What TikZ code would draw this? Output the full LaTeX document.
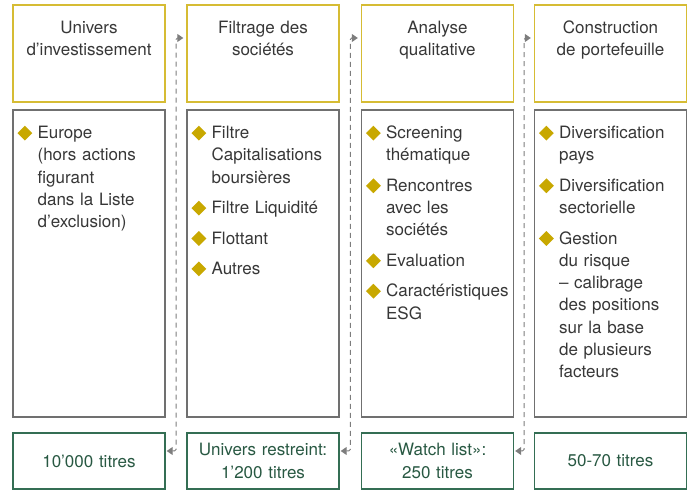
\documentclass[tikz,border=0pt]{standalone}
\usepackage{fontspec}
\setmainfont{TeX Gyre Heros}
\usetikzlibrary{positioning,shapes.geometric,arrows.meta,calc}

\definecolor{headgold}{RGB}{214,188,52}
\definecolor{bulletgold}{RGB}{200,168,0}
\definecolor{boxgray}{RGB}{112,112,112}
\definecolor{resgreen}{RGB}{52,110,84}
\definecolor{restext}{RGB}{40,88,66}
\definecolor{txtgray}{RGB}{55,55,55}
\definecolor{flowgray}{RGB}{125,125,125}

\tikzset{
  headbox/.style={draw=headgold, line width=1.4pt, minimum width=152pt, minimum height=97pt, inner sep=0pt},
  headtext/.style={text=txtgray, text width=150pt, align=center, inner sep=0pt,
    execute at begin node=\strut},
  midbox/.style={draw=boxgray, line width=1.2pt, minimum width=152pt, minimum height=307pt, inner sep=0pt},
  item/.style={text=txtgray, text width=124pt, align=left, inner sep=0pt,
    execute at begin node=\strut, execute at end node=\strut},
  bullet/.style={diamond, fill=bulletgold, minimum size=15pt, inner sep=0pt},
  resbox/.style={draw=resgreen, line width=1.4pt, minimum width=152pt, minimum height=56pt,
    text=restext, text width=148pt, align=center, inner sep=0pt},
  flow/.style={draw=flowgray, line width=1pt, dash pattern=on 5pt off 4pt, rounded corners=1.5pt,
    {Triangle[length=6pt,width=8pt]}-{Triangle[length=6pt,width=8pt]}}
}

\begin{document}
\begin{tikzpicture}[x=1pt, y=1pt, font=\fontsize{17}{22.3}\selectfont]
  \useasboundingbox (0,0) rectangle (691,490);

  % Headers
  \node[headbox] (h1) at (89,436.5) {};
  \node[headbox] (h2) at (263,436.5) {};
  \node[headbox] (h3) at (437.5,436.5) {};
  \node[headbox] (h4) at (610.5,436.5) {};

  \node[headtext, below=13.5pt of h1.north] (t1) {Univers\\d’investissement};
  \node[headtext, below=13.5pt of h2.north] (t2) {Filtrage des\\sociétés};
  \node[headtext, below=13.5pt of h3.north] (t3) {Analyse\\qualitative};
  \node[headtext, below=13.5pt of h4.north] (t4) {Construction\\de portefeuille};

  % Criteria boxes
  \node[midbox] (m1) at (89,226.5) {};
  \node[midbox] (m2) at (263,226.5) {};
  \node[midbox] (m3) at (437.5,226.5) {};
  \node[midbox] (m4) at (610.5,226.5) {};

  \node[item, below right=13.4pt and 25pt of m1.north west] (i11) {Europe\\(hors actions\\figurant\\dans la Liste\\d’exclusion)};

  \node[item, below right=13.4pt and 25pt of m2.north west] (i21) {Filtre\\Capitalisations\\boursières};
  \node[item, below=7.7pt of i21] (i22) {Filtre Liquidité};
  \node[item, below=7.7pt of i22] (i23) {Flottant};
  \node[item, below=7.7pt of i23] (i24) {Autres};

  \node[item, below right=13.4pt and 25pt of m3.north west] (i31) {Screening\\thématique};
  \node[item, below=7.7pt of i31] (i32) {Rencontres\\avec les\\sociétés};
  \node[item, below=7.7pt of i32] (i33) {Evaluation};
  \node[item, below=7.7pt of i33] (i34) {Caractéristiques\\ESG};

  \node[item, below right=13.4pt and 25pt of m4.north west] (i41) {Diversification\\pays};
  \node[item, below=7.7pt of i41] (i42) {Diversification\\sectorielle};
  \node[item, below=7.7pt of i42] (i43) {Gestion\\du risque\\– calibrage\\des positions\\sur la base\\de plusieurs\\facteurs};

  \foreach \n in {i11,i21,i22,i23,i24,i31,i32,i33,i34,i41,i42,i43}
    \node[bullet] (b\n) at ([xshift=-12.5pt,yshift=5.5pt]\n.base west) {};

  % Results
  \node[resbox] (r1) at (89,29) {10’000 titres};
  \node[resbox] (r2) at (263,29) {Univers restreint:\\1’200 titres};
  \node[resbox] (r3) at (437.5,29) {«Watch list»:\\250 titres};
  \node[resbox] (r4) at (610.5,29) {50-70 titres};

  % Flow between steps
  \draw[flow] ([xshift=1pt,yshift=10pt]r1.east) -| ($(r1.east)!0.5!(h2.west)$) |- ([xshift=-3pt,yshift=15.5pt]h2.west);
  \draw[flow] ([xshift=1pt,yshift=10pt]r2.east) -| ($(r2.east)!0.5!(h3.west)$) |- ([xshift=-3pt,yshift=15.5pt]h3.west);
  \draw[flow] ([xshift=1pt,yshift=10pt]r3.east) -| ($(r3.east)!0.5!(h4.west)$) |- ([xshift=-3pt,yshift=15.5pt]h4.west);
\end{tikzpicture}
\end{document}
